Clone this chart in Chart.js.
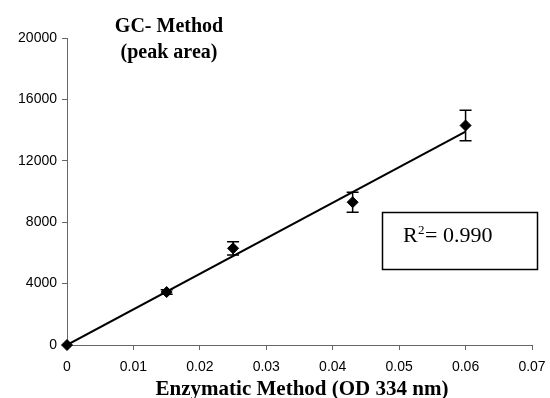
<!DOCTYPE html>
<html>
<head>
<meta charset="utf-8">
<script src="https://cdn.jsdelivr.net/npm/chart.js@4"></script>
<style>
  body { margin: 0; background: #fff; }
  #wrap { width: 550px; height: 398px; }
</style>
</head>
<body>
<div id="wrap"><canvas id="myChart" width="550" height="398"></canvas></div>
<script>
// measured points (enzymatic OD vs GC peak area)
var odValues = [0, 0.015, 0.025, 0.043, 0.06];
var areaValues = [0, 3450, 6300, 9300, 14300];
var areaErrors = [0, 150, 430, 650, 1000];
// regression line end points
var fitX = [0, 0.06];
var fitY = [0, 13900];
var xTicks = [0, 0.01, 0.02, 0.03, 0.04, 0.05, 0.06, 0.07];
var yTicks = [0, 4000, 8000, 12000, 16000, 20000];

var points = odValues.map(function (x, i) { return { x: x, y: areaValues[i] } })
var fitLine = fitX.map(function (x, i) { return { x: x, y: fitY[i] } })

var serif = "'Liberation Serif', 'Times New Roman', serif";
var sans = "'Liberation Sans', Arial, sans-serif";

var errorBars = {
    id: 'errorBars',
    afterDatasetsDraw: function (chart) {
        var c = chart.ctx, xs = chart.scales.x, ys = chart.scales.y;
        c.save();
        c.strokeStyle = '#000';
        c.lineWidth = 1.5;
        odValues.forEach(function (x, i) {
            if (!areaErrors[i]) return;
            var px = xs.getPixelForValue(x);
            var top = ys.getPixelForValue(areaValues[i] + areaErrors[i]);
            var bot = ys.getPixelForValue(areaValues[i] - areaErrors[i]);
            c.beginPath();
            c.moveTo(px, top); c.lineTo(px, bot);
            c.moveTo(px - 6, top); c.lineTo(px + 6, top);
            c.moveTo(px - 6, bot); c.lineTo(px + 6, bot);
            c.stroke();
        })
        c.restore();
    }
}

var labels = {
    id: 'labels',
    afterDraw: function (chart) {
        var c = chart.ctx;
        c.save();
        c.fillStyle = '#000';
        c.textAlign = 'center';
        c.font = 'bold 20px ' + serif;
        c.fillText('GC- Method', 169, 32);
        c.fillText('(peak area)', 169, 58);
        c.font = 'bold 21px ' + serif;
        c.fillText('Enzymatic Method (OD 334 nm)', 302, 395);
        // R squared box
        c.strokeStyle = '#000';
        c.lineWidth = 1.5;
        c.strokeRect(382.5, 212.5, 155, 57);
        c.textAlign = 'left';
        c.font = '22px ' + serif;
        c.fillText('R', 403, 242);
        c.font = '13px ' + serif;
        c.fillText('2', 418, 234);
        c.font = '22px ' + serif;
        c.fillText('= 0.990', 425, 242);
        c.restore();
    }
}

const ctx = document.getElementById('myChart');

new Chart(ctx, {
    type: 'scatter',
    data: {
        datasets: [{
            label: 'fit',
            type: 'line',
            data: fitLine,
            borderColor: '#000',
            borderWidth: 2,
            pointRadius: 0,
            fill: false
        }, {
            label: 'GC',
            data: points,
            backgroundColor: '#000',
            borderColor: '#000',
            pointStyle: 'rectRot',
            pointRadius: 5.5,
            clip: false
        }]
    },
    options: {
        responsive: false,
        animation: false,
        layout: { padding: { top: 38, right: 18, left: 0, bottom: 0 } },
        plugins: { legend: { display: false }, tooltip: { enabled: false } },
        scales: {
            x: {
                type: 'linear',
                min: 0, max: 0.07,
                afterBuildTicks: function (s) { s.ticks = xTicks.map(function (v) { return { value: v } }) },
                afterFit: function (s) { s.height = 53; s.paddingRight = 0; s.paddingLeft = 0 },
                grid: { drawOnChartArea: false, color: '#666', tickLength: 5 },
                border: { color: '#666', width: 1 },
                ticks: {
                    color: '#000', font: { family: sans, size: 14 }, padding: 9, maxRotation: 0,
                    callback: function (v) { return String(+v.toFixed(2)) }
                }
            },
            y: {
                min: 0, max: 20000,
                afterBuildTicks: function (s) { s.ticks = yTicks.map(function (v) { return { value: v } }) },
                afterFit: function (s) { s.width = 67 },
                grid: { drawOnChartArea: false, color: '#666', tickLength: 5 },
                border: { color: '#666', width: 1 },
                ticks: {
                    color: '#000', font: { family: sans, size: 14 }, padding: 5,
                    callback: function (v) { return String(v) }
                }
            }
        }
    },
    plugins: [errorBars, labels]
});
</script>
</body>
</html>
